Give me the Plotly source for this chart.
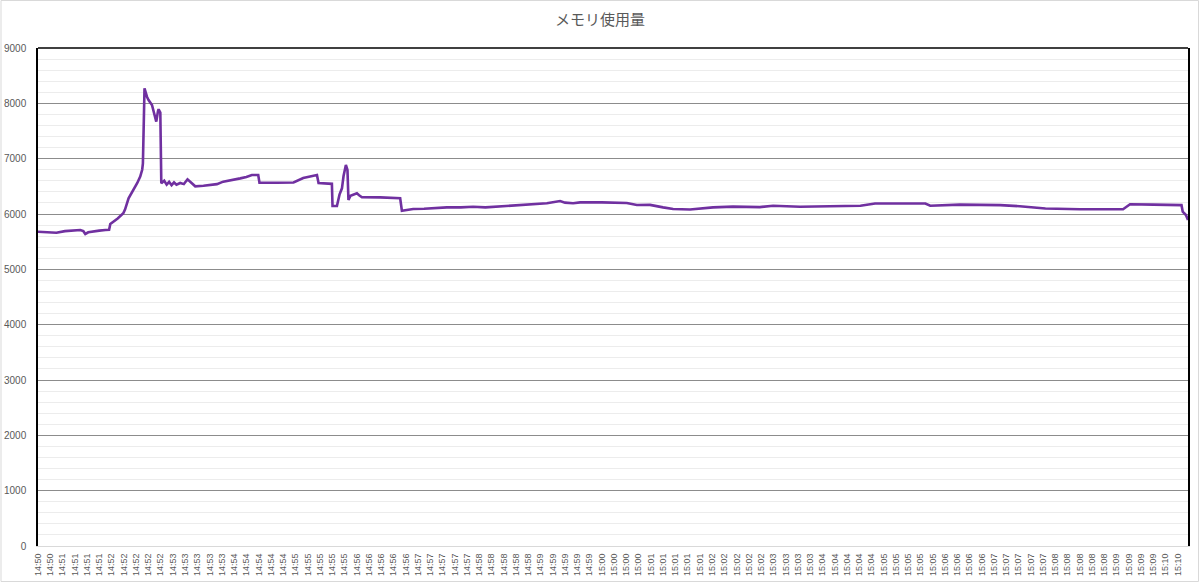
import plotly.graph_objects as go

# Sample positions (in label-slot units along the category axis) and memory usage values
T = [0, 0.8, 1.5, 2.2, 2.6, 3.45, 3.7, 3.86, 4.1, 4.6, 5.0, 5.5, 5.8, 5.9, 6.17, 6.5, 6.96, 7.1, 7.39, 7.8,
     8.1, 8.34, 8.5, 8.56, 8.69, 8.89, 9.02, 9.3, 9.57, 9.65, 9.79, 9.84, 9.98, 10.06, 10.3, 10.5, 10.7, 10.9,
     11.1, 11.3, 11.6, 11.9, 12.2, 12.5, 12.83, 13.5, 14.05, 14.6, 15.11, 15.8, 16.5, 17.0, 17.45, 17.97, 18.07,
     19.5, 20.85, 21.64, 22.2, 22.76, 22.89, 23.5, 23.98, 24.03, 24.39, 24.6, 24.8, 24.93, 25.12, 25.25, 25.33,
     25.5, 25.74, 26.02, 26.2, 26.43, 27.92, 28.74, 29.55, 29.69, 30.61, 31.5, 32.5, 33.36, 34.5, 35.5, 36.5,
     37.5, 38.77, 40.0, 41.52, 42.6, 43.0, 43.66, 44.23, 46.0, 47.5, 48.04, 48.86, 49.94, 51.0, 51.82, 53.2,
     54.2, 55.08, 56.7, 58.9, 59.98, 62.18, 64.6, 67.1, 68.3, 70.0, 72.4, 72.8, 75.2, 78.5, 80.1, 82.2, 85.0,
     88.53, 89.1, 91.0, 92.0, 93.3, 93.4, 93.66, 93.83]
MEM = [5680, 5670, 5660, 5690, 5700, 5711, 5690, 5640, 5670, 5690, 5700, 5710, 5715, 5820, 5861, 5920, 6013, 6080, 6284, 6434,
       6560, 6675, 6800, 6916, 8271, 8120, 8060, 7970, 7700, 7670, 7860, 7893, 7833, 6555, 6600, 6530, 6580, 6520,
       6570, 6530, 6560, 6540, 6627, 6560, 6500, 6510, 6524, 6540, 6585, 6610, 6644, 6670, 6705, 6705, 6565,
       6565, 6570, 6650, 6680, 6705, 6560, 6555, 6545, 6145, 6145, 6350, 6464, 6687, 6886, 6796, 6253,
       6330, 6344, 6374, 6340, 6302, 6300, 6290, 6284, 6060, 6090, 6095, 6110, 6120, 6120, 6130, 6120,
       6135, 6145, 6160, 6194, 6235, 6205, 6194, 6210, 6210, 6210, 6200, 6163, 6165, 6120, 6090, 6080,
       6100, 6120, 6133, 6125, 6150, 6130, 6140, 6150, 6190, 6190, 6190, 6150, 6170, 6160, 6140, 6100, 6085,
       6085, 6176, 6170, 6165, 6160, 6042, 5982, 5892]

TICK_LABELS = (["14:50"] * 2 + ["14:51"] * 4 + ["14:52"] * 5 + ["14:53"] * 5 + ["14:54"] * 5 +
               ["14:55"] * 5 + ["14:56"] * 5 + ["14:57"] * 5 + ["14:58"] * 5 + ["14:59"] * 5 +
               ["15:00"] * 4 + ["15:01"] * 5 + ["15:02"] * 5 + ["15:03"] * 4 + ["15:04"] * 5 +
               ["15:05"] * 5 + ["15:06"] * 4 + ["15:07"] * 5 + ["15:08"] * 5 + ["15:09"] * 4 + ["15:10"] * 2)
TITLE = "メモリ使用量"

W, H = 1200, 583
ML, MR, MT, MB = 38, 12, 48, 37
PW, PH = W - ML - MR, H - MT - MB

fig = go.Figure()
fig.add_trace(go.Scatter(x=T, y=MEM, mode="lines",
                         line=dict(color="#7030A0", width=2.6), hoverinfo="skip"))

fig.update_layout(
    width=W, height=H,
    margin=dict(l=ML, r=MR, t=MT, b=MB, pad=0, autoexpand=False),
    paper_bgcolor="white", plot_bgcolor="white",
    showlegend=False,
    title=dict(text=TITLE, x=0.5, xanchor="center", y=1 - 20 / H, yanchor="middle",
               font=dict(family="Noto Sans CJK JP", size=15, color="#595959")),
    font=dict(family="Liberation Sans, Noto Sans", color="#595959"),
)

fig.update_xaxes(
    range=[0, 93.83], automargin=False,
    tickmode="array", tickvals=list(range(len(TICK_LABELS))), ticktext=TICK_LABELS,
    tickangle=-90, tickfont=dict(size=9, color="#595959"),
    showgrid=False, zeroline=False,
    showline=True, linecolor="#d9d9d9", linewidth=1,
    ticks="", ticklabelstandoff=3,
)
fig.update_yaxes(
    range=[0, 9000], dtick=1000, tick0=0, automargin=False,
    tickfont=dict(size=10, color="#595959"),
    showgrid=True, gridcolor="#8c8c8c", gridwidth=1,
    minor=dict(dtick=200, showgrid=True, gridcolor="#ececec", gridwidth=1),
    zeroline=False,
    showline=True, linecolor="#000000", linewidth=1.5, mirror=True,
    ticks="", ticklabelstandoff=8,
)

# top border of plot area (black) and outer chart border (light gray)
fig.add_shape(type="line", xref="paper", yref="paper", x0=0, x1=1, y0=1, y1=1,
              line=dict(color="#000000", width=1.5))
fig.add_shape(type="rect", xref="paper", yref="paper",
              x0=(1 - ML) / PW, x1=(W - 1.5 - ML) / PW,
              y0=(MT + PH - (H - 1.5)) / PH, y1=(MT + PH - 0.5) / PH,
              line=dict(color="#d9d9d9", width=1))

fig.write_html("out.html",
               config={"displayModeBar": False},
               post_script="document.body.style.margin='0';document.body.style.overflow='hidden';")
